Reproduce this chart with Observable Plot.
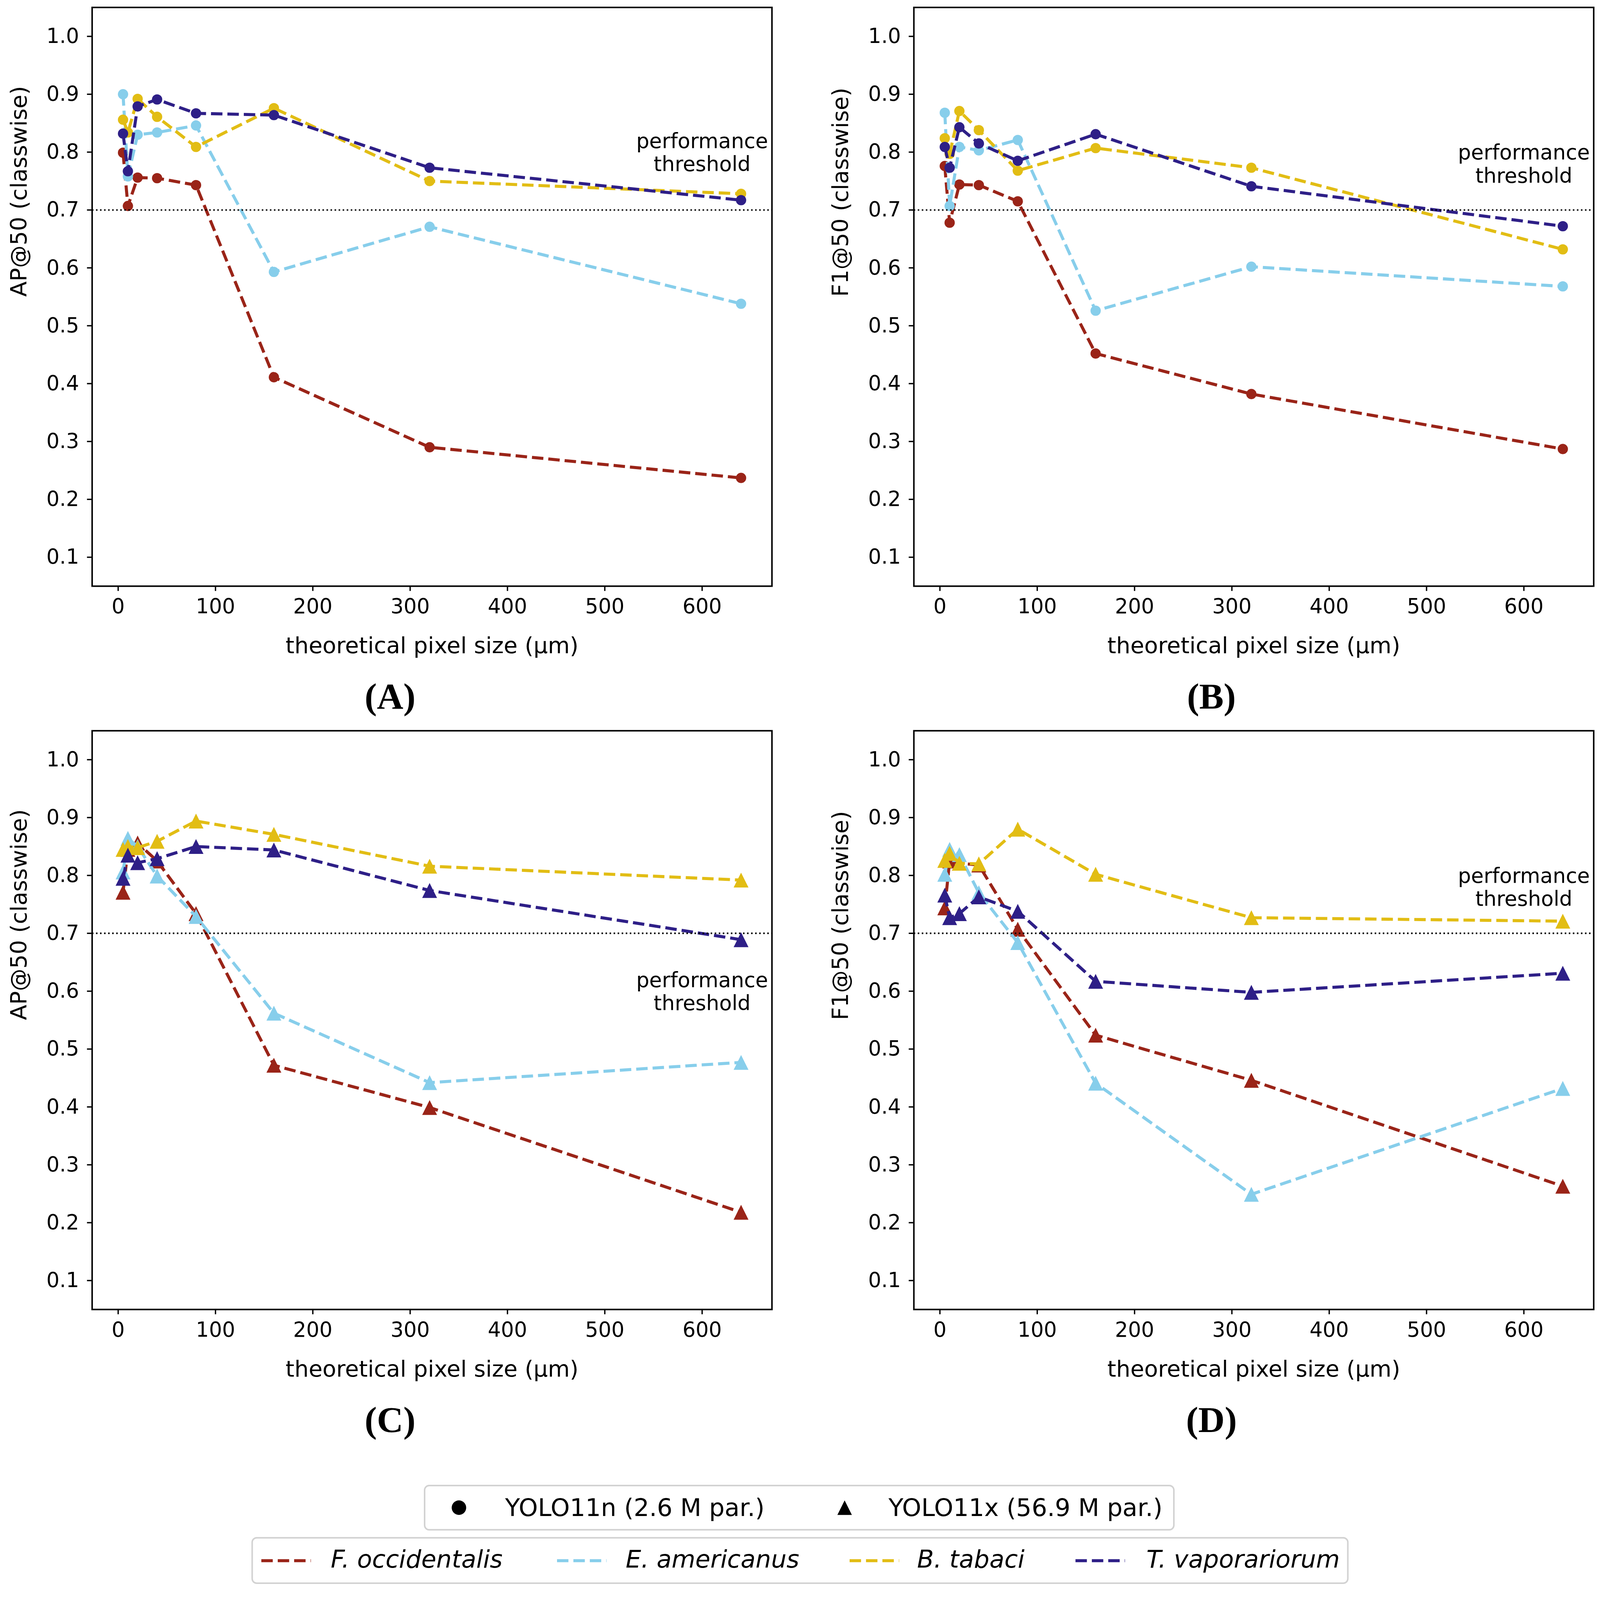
<!DOCTYPE html>
<html>
<head>
<meta charset="utf-8">
<script src="https://cdn.jsdelivr.net/npm/d3@7"></script>
<script src="https://cdn.jsdelivr.net/npm/@observablehq/plot@0.6"></script>
<style>
  html, body { margin: 0; padding: 0; background: #fff; overflow: hidden; }
  #fig { position: relative; width: 4194px; height: 4162px; background: #fff; font-family: "DejaVu Sans", sans-serif; color: #000; transform-origin: 0 0; }
  .panel { position: absolute; }
  .legbox { position: absolute; box-sizing: border-box; border: 4px solid #d2d2d2; border-radius: 14px; background: #fff; }
  .legsw { position: absolute; top: 0; height: 100%; display: flex; align-items: center; }
  .legtxt { position: absolute; top: 0; font-size: 64px; white-space: nowrap; font-family: "DejaVu Sans", sans-serif; }
</style>
</head>
<body>
<div id="fig"></div>
<script>
// ---------------- data ----------------
const pixelSizes = [5, 10, 20, 40, 80, 160, 320, 640];
const species = ["F. occidentalis", "E. americanus", "B. tabaci", "T. vaporariorum"];
const speciesColors = ["#9a2418", "#87ceeb", "#e2bd14", "#2e1f87"];
const models = ["YOLO11n (2.6 M par.)", "YOLO11x (56.9 M par.)"];
const xTicks = [0, 100, 200, 300, 400, 500, 600];
const yTicks = [0.1, 0.2, 0.3, 0.4, 0.5, 0.6, 0.7, 0.8, 0.9, 1.0];
const threshold = 0.7;
const xLabel = "theoretical pixel size (μm)";
const panelLetters = ["(A)", "(B)", "(C)", "(D)"];
const panelYLabels = ["AP@50 (classwise)", "F1@50 (classwise)", "AP@50 (classwise)", "F1@50 (classwise)"];
const noteText = "performance\nthreshold";
const noteX = 600;
const noteY = [0.8, 0.78, 0.6, 0.78];

// (A) AP@50, YOLO11n
const apN_Focc = [0.799, 0.707, 0.756, 0.755, 0.743, 0.411, 0.290, 0.237];
const apN_Eame = [0.900, 0.758, 0.830, 0.834, 0.846, 0.593, 0.671, 0.538];
const apN_Btab = [0.856, 0.834, 0.892, 0.861, 0.809, 0.876, 0.750, 0.728];
const apN_Tvap = [0.832, 0.767, 0.879, 0.891, 0.867, 0.864, 0.773, 0.717];
// (B) F1@50, YOLO11n
const f1N_Focc = [0.776, 0.678, 0.744, 0.743, 0.715, 0.452, 0.382, 0.287];
const f1N_Eame = [0.868, 0.707, 0.809, 0.803, 0.821, 0.526, 0.602, 0.568];
const f1N_Btab = [0.824, 0.797, 0.871, 0.838, 0.768, 0.807, 0.773, 0.632];
const f1N_Tvap = [0.809, 0.773, 0.843, 0.815, 0.785, 0.831, 0.741, 0.672];
// (C) AP@50, YOLO11x
const apX_Focc = [0.771, 0.845, 0.856, 0.825, 0.734, 0.472, 0.399, 0.218];
const apX_Eame = [0.806, 0.864, 0.850, 0.799, 0.729, 0.562, 0.442, 0.477];
const apX_Btab = [0.845, 0.850, 0.848, 0.859, 0.894, 0.871, 0.816, 0.792];
const apX_Tvap = [0.795, 0.835, 0.822, 0.829, 0.850, 0.844, 0.774, 0.689];
// (D) F1@50, YOLO11x
const f1X_Focc = [0.744, 0.825, 0.821, 0.818, 0.707, 0.524, 0.446, 0.263];
const f1X_Eame = [0.802, 0.845, 0.836, 0.770, 0.684, 0.441, 0.249, 0.432];
const f1X_Btab = [0.826, 0.838, 0.821, 0.820, 0.880, 0.802, 0.727, 0.721];
const f1X_Tvap = [0.766, 0.727, 0.734, 0.763, 0.738, 0.617, 0.598, 0.631];

// ---------------- build ----------------
function rows(arrays) {
  return species.flatMap((sp, i) => pixelSizes.map((s, j) => ({species: sp, size: s, value: arrays[i][j]})));
}
const panelData = [
  rows([apN_Focc, apN_Eame, apN_Btab, apN_Tvap]),
  rows([f1N_Focc, f1N_Eame, f1N_Btab, f1N_Tvap]),
  rows([apX_Focc, apX_Eame, apX_Btab, apX_Tvap]),
  rows([f1X_Focc, f1X_Eame, f1X_Btab, f1X_Tvap])
];

// matplotlib-like "^" marker: bbox-centred isosceles triangle
const mplTriangle = {
  draw(ctx, size) {
    const h = Math.sqrt(size / Math.PI);
    ctx.moveTo(0, -h); ctx.lineTo(h, h); ctx.lineTo(-h, h); ctx.closePath();
  }
};

const fig = document.getElementById("fig");
const innerW = 1782, innerH = 1517, mL = 241, mT = 19, rowH = 1896;
const colLeft = [0, 2154], colW = [2154, 2040];
const letterDx = [-110, -111];

function makePanel(k) {
  const col = k % 2, row = Math.floor(k / 2);
  const data = panelData[k];
  const marker = row === 0 ? "circle" : mplTriangle;
  const r = row === 0 ? 13.5 : 19.5;
  const marks = [];
  for (const sp of species) {
    const d = data.filter(o => o.species === sp);
    marks.push(Plot.line(d, {x: "size", y: "value", stroke: "species", strokeWidth: 8,
      strokeDasharray: "30,13", strokeLinecap: "butt", strokeLinejoin: "round"}));
    marks.push(Plot.dot(d, {x: "size", y: "value", fill: "species", r, symbol: marker, stroke: null}));
  }
  marks.push(Plot.ruleY([threshold], {stroke: "black", strokeWidth: 4, strokeDasharray: "4,6.6", strokeLinecap: "butt"}));
  marks.push(Plot.text([{x: noteX, y: noteY[k], t: noteText}], {x: "x", y: "y", text: "t",
    textAnchor: "middle", lineAnchor: "middle", lineHeight: 1.12, fontSize: 54, fill: "black"}));
  marks.push(Plot.frame({stroke: "black", strokeWidth: 4}));
  marks.push(Plot.axisX(xTicks, {anchor: "bottom", tickSize: 13, tickPadding: 20, strokeWidth: 3.5, label: null, fontSize: 54}));
  marks.push(Plot.axisY(yTicks, {anchor: "left", tickSize: 13, tickPadding: 21, strokeWidth: 3.5, label: null,
    tickFormat: d3.format(".1f"), fontSize: 54}));
  marks.push(Plot.text([xLabel], {text: d => d, frameAnchor: "bottom", dy: 176, lineAnchor: "bottom", fontSize: 59}));
  marks.push(Plot.text([panelYLabels[k]], {text: d => d, frameAnchor: "left", dx: -214, rotate: -90, lineAnchor: "top", fontSize: 59}));
  marks.push(Plot.text([panelLetters[k]], {text: d => d, frameAnchor: "bottom", dx: letterDx[col], dy: 321, lineAnchor: "bottom",
    fontSize: 96, fontWeight: "bold", fontFamily: "Liberation Serif, Times New Roman, serif"}));

  const svg = Plot.plot({
    width: colW[col], height: rowH,
    marginLeft: mL, marginTop: mT, marginRight: colW[col] - mL - innerW, marginBottom: rowH - mT - innerH,
    style: {fontFamily: "DejaVu Sans", fontSize: "54px", color: "black", background: "white", overflow: "visible"},
    x: {domain: [-26.75, 671.75]},
    y: {domain: [0.05, 1.05]},
    color: {domain: species, range: speciesColors},
    marks
  });
  svg.classList.add("panel");
  svg.style.left = colLeft[col] + "px";
  svg.style.top = (row * rowH) + "px";
  fig.appendChild(svg);
}
for (let k = 0; k < 4; k++) makePanel(k);

// ---------------- legends ----------------
const NS = "http://www.w3.org/2000/svg";
function box(left, top, w, h) {
  const b = document.createElement("div");
  b.className = "legbox";
  Object.assign(b.style, {left: left + "px", top: top + "px", width: w + "px", height: h + "px"});
  fig.appendChild(b);
  return b;
}
function swatch(parent, left, w, h, build) {
  const wrap = document.createElement("div");
  wrap.className = "legsw";
  wrap.style.left = left + "px";
  const s = document.createElementNS(NS, "svg");
  s.setAttribute("width", w); s.setAttribute("height", h);
  s.setAttribute("viewBox", `0 0 ${w} ${h}`);
  build(s, w, h);
  wrap.appendChild(s);
  parent.appendChild(wrap);
}
function label(parent, left, lh, text, italic) {
  const t = document.createElement("span");
  t.className = "legtxt";
  t.style.left = left + "px";
  t.style.lineHeight = lh + "px";
  if (italic) t.style.fontStyle = "italic";
  t.textContent = text;
  parent.appendChild(t);
}
// model legend
const b1 = box(1111, 3892, 1968, 120);
swatch(b1, 68, 40, 40, (s) => {
  const c = document.createElementNS(NS, "circle");
  c.setAttribute("cx", 20); c.setAttribute("cy", 20); c.setAttribute("r", 19); c.setAttribute("fill", "black");
  s.appendChild(c);
});
label(b1, 209, 112, models[0], false);
swatch(b1, 1079, 40, 40, (s) => {
  const p = document.createElementNS(NS, "path");
  p.setAttribute("d", "M20,1 L39,39 L1,39 Z"); p.setAttribute("fill", "black");
  s.appendChild(p);
});
label(b1, 1214, 112, models[1], false);
// species legend
const b2 = box(659, 4029, 2876, 123);
const swLeft = [22, 797, 1564, 2156];
const txLeft = [204, 977, 1741, 2342];
species.forEach((sp, i) => {
  swatch(b2, swLeft[i], 130, 16, (s, w, h) => {
    const l = document.createElementNS(NS, "line");
    l.setAttribute("x1", 0); l.setAttribute("x2", w); l.setAttribute("y1", h / 2); l.setAttribute("y2", h / 2);
    l.setAttribute("stroke", speciesColors[i]); l.setAttribute("stroke-width", 8);
    l.setAttribute("stroke-dasharray", "30,13");
    s.appendChild(l);
  });
  label(b2, txLeft[i], 109, sp, true);
});

// fit the 4194x4162 figure into the actual viewport
function fit() {
  const vw = document.documentElement.clientWidth || window.innerWidth;
  const vh = document.documentElement.clientHeight || window.innerHeight;
  const s = Math.min(vw / 4194, vh / 4162, 1);
  fig.style.transform = s < 1 ? `scale(${s})` : "";
}
fit();
window.addEventListener("resize", fit);
</script>
</body>
</html>
